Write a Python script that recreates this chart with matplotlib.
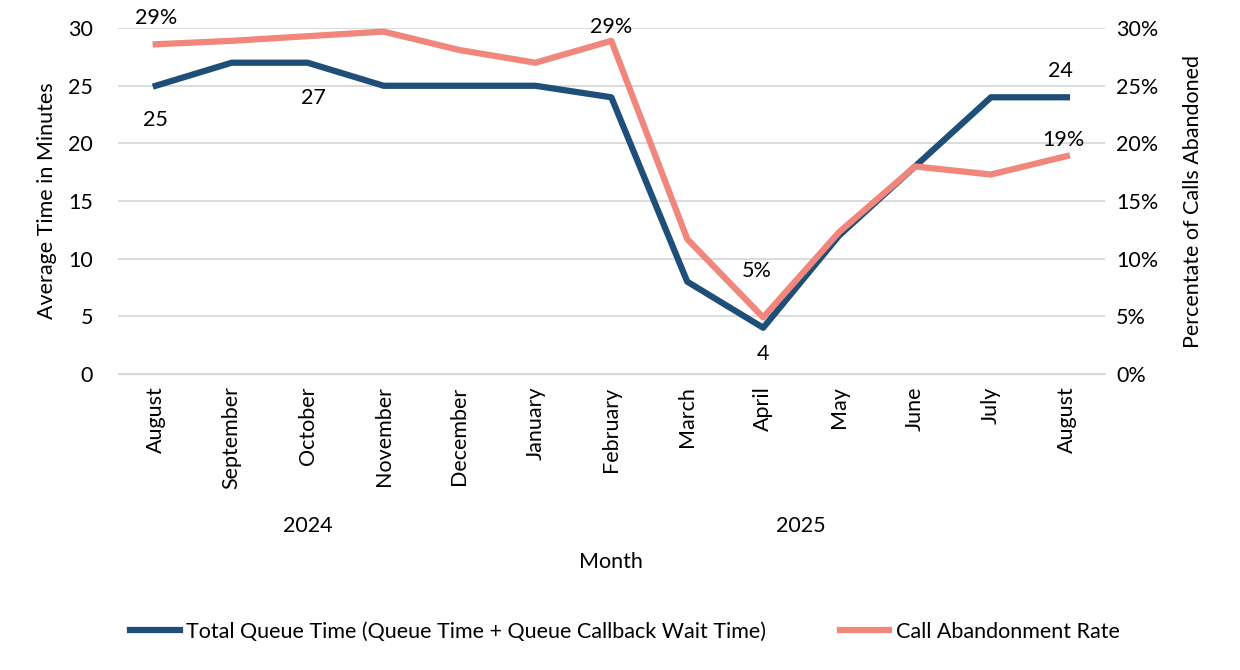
import matplotlib
matplotlib.use("Agg")
import matplotlib.pyplot as plt
from matplotlib.ticker import FuncFormatter

plt.rcParams["font.family"] = ["Lato", "DejaVu Sans"]
FS = 15.5

MESES = ["August", "September", "October", "November", "December", "January",
         "February", "March", "April", "May", "June", "July", "August"]
ANIOS = ["2024", "2025"]
ANIO_POS = [2, 8.5]
COLA_MIN = [25, 27, 27, 25, 25, 25, 24, 8, 4, 12, 18, 24, 24]
ABANDONO = [28.6, 28.9, 29.3, 29.7, 28.1, 27.0, 28.9, 11.7, 4.9, 12.3, 18.0, 17.3, 18.9]

AZUL = "#1F4E79"
ROSA = "#F0867C"

fig = plt.figure(figsize=(12.4, 6.7), dpi=100)
ax = fig.add_axes([0.095, 0.442, 0.796, 0.516])
ax2 = ax.twinx()

x = list(range(len(MESES)))
l1, = ax.plot(x, COLA_MIN, color=AZUL, lw=4.5, zorder=3,
              label="Total Queue Time (Queue Time + Queue Callback Wait Time)")
l2, = ax2.plot(x, ABANDONO, color=ROSA, lw=4.5, zorder=3,
               label="Call Abandonment Rate")

ax.set_xlim(-0.5, len(MESES) - 0.5)
ax.set_ylim(0, 30)
ax2.set_ylim(0, 30)
ax.set_yticks(range(0, 31, 5))
ax2.set_yticks(range(0, 31, 5))
ax2.yaxis.set_major_formatter(FuncFormatter(lambda v, p: f"{v:.0f}%"))
ax.set_xticks(x)
ax.set_xticklabels(MESES, rotation=90, fontsize=FS)
ax.tick_params(axis="y", labelsize=FS, length=0, pad=18)
ax2.tick_params(axis="y", labelsize=FS, length=0, pad=8)
ax.tick_params(axis="x", length=0, pad=9)
ax.grid(axis="y", color="#D9D9D9", lw=1.3)
ax.set_axisbelow(True)
for s in ["top", "right", "left"]:
    ax.spines[s].set_visible(False)
    ax2.spines[s].set_visible(False)
ax.spines["bottom"].set_color("#D9D9D9")
ax2.spines["bottom"].set_visible(False)

ax.set_ylabel("Average Time in Minutes", fontsize=FS, labelpad=8)
ax2.set_ylabel("Percentate of Calls Abandoned", fontsize=FS, labelpad=18)

# etiquetas de datos (desplazamiento en pixeles)
for i, dx, dy in [(0, 0, -34), (2, 6, -35), (8, 0, -26), (12, -6, 26)]:
    ax.annotate(f"{COLA_MIN[i]}", (x[i], COLA_MIN[i]), xytext=(dx, dy),
                textcoords="offset pixels", ha="center", va="center", fontsize=FS)
for i, dx, dy in [(0, 0, 26), (6, 0, 14), (8, -6, 46), (12, -3, 16)]:
    ax2.annotate(f"{ABANDONO[i]:.0f}%", (x[i], ABANDONO[i]), xytext=(dx, dy),
                 textcoords="offset pixels", ha="center", va="center", fontsize=FS)

# años y título del eje x
for a, p in zip(ANIOS, ANIO_POS):
    ax.text(p, -0.44, a, transform=ax.get_xaxis_transform(), ha="center",
            va="center", fontsize=FS)
ax.text(0.5, -0.545, "Month", transform=ax.transAxes, ha="center", va="center", fontsize=FS)

fig.legend(handles=[l1, l2], loc="center", bbox_to_anchor=(0.504, 0.057), ncol=2,
           frameon=False, fontsize=FS, handlelength=2.3, handletextpad=0.3,
           columnspacing=3.4)

fig.savefig("out.png", dpi=100)
